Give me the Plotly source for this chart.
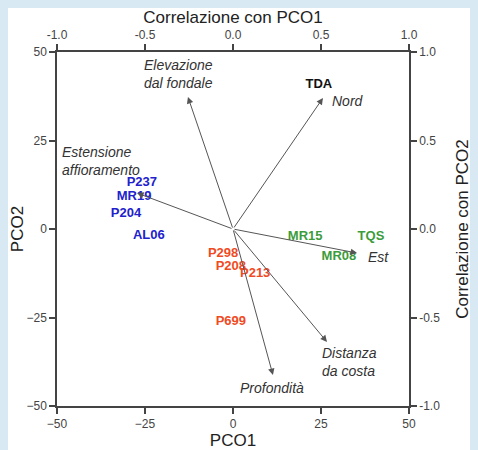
import plotly.graph_objects as go

# Site scores (PCO1, PCO2)
sites_blue = ["P237", "MR19", "P204", "AL06"]
blue_x = [-25.9, -28.1, -30.4, -23.9]
blue_y = [13.0, 9.0, 4.2, -2.0]

sites_red = ["P298", "P208", "P213", "P699"]
red_x = [-2.8, -0.6, 6.3, -0.6]
red_y = [-7.1, -10.7, -12.7, -26.3]

sites_green = ["MR15", "TQS", "MR08"]
green_x = [20.5, 39.2, 30.1]
green_y = [-2.3, -2.3, -7.9]

sites_black = ["TDA"]
black_x = [24.4]
black_y = [40.7]

# Variable correlations with PCO1 / PCO2
var_names = ["Elevazione<br>dal fondale", "Nord", "Estensione<br>affioramento",
             "Est", "Distanza<br>da costa", "Profondità"]
var_cx = [-0.256, 0.511, -0.545, 0.705, 0.534, 0.227]
var_cy = [0.746, 0.740, 0.203, -0.136, -0.638, -0.825]

# label placement for variables (correlation coords, anchor)
lab_pos = [(-0.517, 0.878, "left"), (0.551, 0.723, "left"), (-0.983, 0.384, "left"),
           (0.756, -0.158, "left"), (0.494, -0.751, "left"), (0.222, -0.898, "center")]

ticks_main = [-50, -25, 0, 25, 50]
ticks_corr = [-1.0, -0.5, 0.0, 0.5, 1.0]
ticks_corr_text = ["-1.0", "-0.5", "0.0", "0.5", "1.0"]

FONT = "Liberation Sans, Arial, sans-serif"
fig = go.Figure()

for names, xs, ys, col in [(sites_blue, blue_x, blue_y, "#2222cc"),
                           (sites_red, red_x, red_y, "#f04a24"),
                           (sites_green, green_x, green_y, "#3c9c3c"),
                           (sites_black, black_x, black_y, "#111111")]:
    fig.add_trace(go.Scatter(x=xs, y=ys, mode="text", text=names,
                             textfont=dict(family=FONT, size=13, color=col, weight="bold"),
                             showlegend=False, hoverinfo="skip"))

# invisible trace on correlation axes
fig.add_trace(go.Scatter(x=var_cx, y=var_cy, xaxis="x2", yaxis="y2", mode="markers",
                         marker=dict(opacity=0), showlegend=False, hoverinfo="skip"))

annotations = []
for cx, cy in zip(var_cx, var_cy):
    annotations.append(dict(x=cx, y=cy, xref="x2", yref="y2", ax=0, ay=0,
                            axref="x2", ayref="y2", text="", showarrow=True,
                            arrowhead=2, arrowsize=1.3, arrowwidth=1, arrowcolor="#555555"))
for name, (lx, ly, anc) in zip(var_names, lab_pos):
    annotations.append(dict(x=lx, y=ly, xref="x2", yref="y2", text=name, showarrow=False,
                            xanchor=anc, yanchor="middle", align="left",
                            font=dict(family=FONT, size=14, color="#333333", style="italic")))

axis_common = dict(showgrid=False, zeroline=False, showline=True, linecolor="#444444",
                   linewidth=1.5, ticks="outside", ticklen=6, tickwidth=1.5,
                   tickcolor="#444444", tickfont=dict(family=FONT, size=12, color="#444444"),
                   mirror=False, automargin=False)

fig.update_layout(
    width=470, height=442,
    margin=dict(l=49, r=69, t=44, b=44),
    paper_bgcolor="white", plot_bgcolor="white",
    xaxis=dict(range=[-50, 50], tickvals=ticks_main,
               title=dict(text="PCO1", font=dict(family=FONT, size=17, color="#222222"), standoff=6),
               **axis_common),
    yaxis=dict(range=[-50, 50], tickvals=ticks_main,
               title=dict(text="PCO2", font=dict(family=FONT, size=17, color="#222222"), standoff=6),
               **axis_common),
    xaxis2=dict(range=[-1, 1], tickvals=ticks_corr, ticktext=ticks_corr_text, overlaying="x",
                side="top", anchor="y",
                title=dict(text="Correlazione con PCO1", font=dict(family=FONT, size=17, color="#222222"), standoff=2),
                **axis_common),
    yaxis2=dict(range=[-1, 1], tickvals=ticks_corr, ticktext=ticks_corr_text, overlaying="y",
                side="right", anchor="x",
                title=dict(text="Correlazione con PCO2", font=dict(family=FONT, size=17, color="#222222"), standoff=17),
                **axis_common),
    annotations=annotations,
)

fig.write_html("out.html", post_script="document.body.style.background='#d8e9f4';")
